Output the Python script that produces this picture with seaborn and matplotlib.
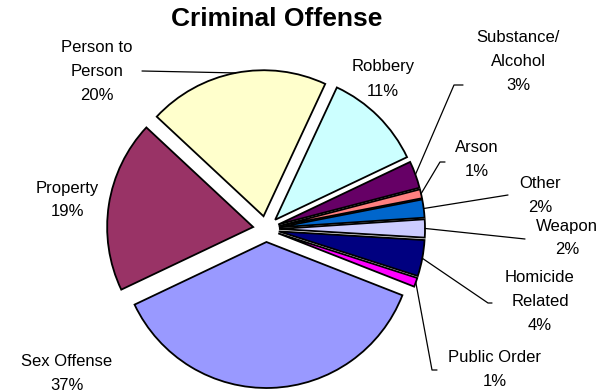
import numpy as np
import matplotlib
matplotlib.use("Agg")
import matplotlib.pyplot as plt
import seaborn as sns

# ---- data ----
categories = ["Robbery", "Substance/\nAlcohol", "Arson", "Other", "Weapon",
              "Homicide\nRelated", "Public Order", "Sex Offense", "Property",
              "Person to\nPerson"]
values = [11, 3, 1, 2, 2, 4, 1, 37, 19, 20]
pct_labels = ["11%", "3%", "1%", "2%", "2%", "4%", "1%", "37%", "19%", "20%"]
colors_hex = ["#CCFFFF", "#660066", "#FF8080", "#0066CC", "#CCCCFF",
              "#000080", "#FF00FF", "#9999FF", "#993366", "#FFFFCC"]

sns.set_theme(style="white")
plt.rcParams['font.family'] = ['Liberation Sans', 'DejaVu Sans']

W, H = 604, 390
fig = plt.figure(figsize=(W / 100, H / 100), dpi=100)
ax = fig.add_axes([0, 0, 1, 1])

def P(x, y):
    return (x, H - y)

cx, cy = P(266, 229)
R = 146
explode_px = 13
palette = sns.color_palette(colors_hex)

wedges, _ = ax.pie(values, colors=palette, startangle=65, counterclock=False,
                   radius=R, center=(cx, cy), explode=[explode_px] * len(values),
                   frame=True,
                   wedgeprops=dict(edgecolor="black", linewidth=1.3))
ax.set_xlim(0, W)
ax.set_ylim(0, H)
ax.set_aspect("equal")
ax.axis("off")

ax.text(*P(277, 19), "Criminal Offense", ha="center", va="center",
        fontsize=19, fontweight="bold", color="black")

# label positions (center of text block) and leader line waypoints (pixel coords)
label_pos = {
    0: (383, 79),
    1: (518, 62),
    2: (477, 160),
    3: (540, 195),
    4: (567, 238),
    5: (540, 302),
    6: (495, 370),
    7: (67, 373),
    8: (67, 200),
    9: (97, 71),
}
leader_pts = {
    1: [(454, 85), (463, 85)],
    2: [(440, 162), (445, 162)],
    3: [(508, 195)],
    4: [(525, 239)],
    5: [(488, 303), (492, 303)],
    6: [(432, 370), (437, 370)],
    9: [(142, 71)],
}

fs = 12
for i, w in enumerate(wedges):
    txt = categories[i] + "\n" + pct_labels[i]
    ax.text(*P(*label_pos[i]), txt, ha="center", va="center", fontsize=fs,
            color="black", linespacing=1.75)
    if i in leader_pts:
        th = np.deg2rad((w.theta1 + w.theta2) / 2)
        ox, oy = w.center
        x0 = ox + w.r * np.cos(th)
        y0 = oy + w.r * np.sin(th)
        xs = [x0] + [P(*p)[0] for p in leader_pts[i]]
        ys = [y0] + [P(*p)[1] for p in leader_pts[i]]
        ax.plot(xs, ys, color="black", linewidth=0.9)

fig.savefig("out.png", dpi=100, facecolor="white")
